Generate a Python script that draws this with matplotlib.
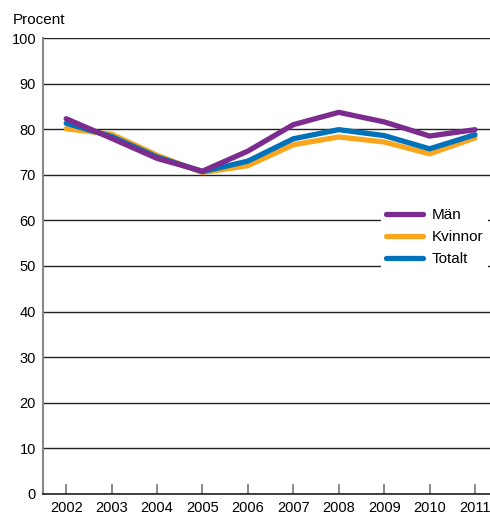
import matplotlib
matplotlib.use("Agg")
import matplotlib.pyplot as plt

years = [2002, 2003, 2004, 2005, 2006, 2007, 2008, 2009, 2010, 2011]
man = [82.3, 78.0, 73.6, 70.8, 75.2, 81.0, 83.7, 81.6, 78.5, 79.9]
kvinnor = [80.1, 78.9, 74.3, 70.5, 72.0, 76.6, 78.3, 77.2, 74.6, 78.1]
totalt = [81.3, 78.4, 73.9, 70.7, 73.0, 77.9, 79.9, 78.6, 75.7, 78.8]

plt.rcParams['font.family'] = ['Liberation Sans', 'DejaVu Sans']

fig = plt.figure(figsize=(4.9, 5.15), dpi=100)
ax = fig.add_axes([0.0878, 0.0408, 0.9122, 0.8854])

ax.set_xlim(2001.49, 2011.33)
ax.set_ylim(0, 100)
ax.set_yticks(range(0, 101, 10))
ax.set_xticks(years)
ax.grid(axis='y', color='#222222', linewidth=1.0)
ax.set_axisbelow(True)

ax.plot(years, kvinnor, color='#F9A51E', lw=3.8, solid_capstyle='round', label='Kvinnor', zorder=3)
ax.plot(years, totalt, color='#0072B9', lw=3.8, solid_capstyle='round', label='Totalt', zorder=4)
ax.plot(years, man, color='#7B2C8E', lw=3.8, solid_capstyle='round', label='Män', zorder=5)

for s in ['top', 'right']:
    ax.spines[s].set_visible(False)
ax.spines['left'].set_color('#888888')
ax.spines['left'].set_linewidth(1.5)
ax.spines['bottom'].set_color('#222222')
ax.spines['bottom'].set_linewidth(1.2)

ax.tick_params(axis='y', length=0, labelsize=10.5, pad=5)
ax.tick_params(axis='x', direction='in', length=7, width=1.2, color='#777777', labelsize=10.5, pad=5)

h, l = ax.get_legend_handles_labels()
order = [2, 0, 1]
leg = ax.legend([h[i] for i in order], [l[i] for i in order], loc='upper left',
                bbox_to_anchor=(0.74, 0.654), frameon=True, fancybox=False,
                edgecolor='none', facecolor='white', framealpha=1,
                handlelength=2.4, handletextpad=0.6, labelspacing=0.52,
                borderpad=0.3, fontsize=11)

fig.text(0.025, 0.962, 'Procent', fontsize=11, ha='left', va='center')

fig.savefig('out.png', dpi=100)
